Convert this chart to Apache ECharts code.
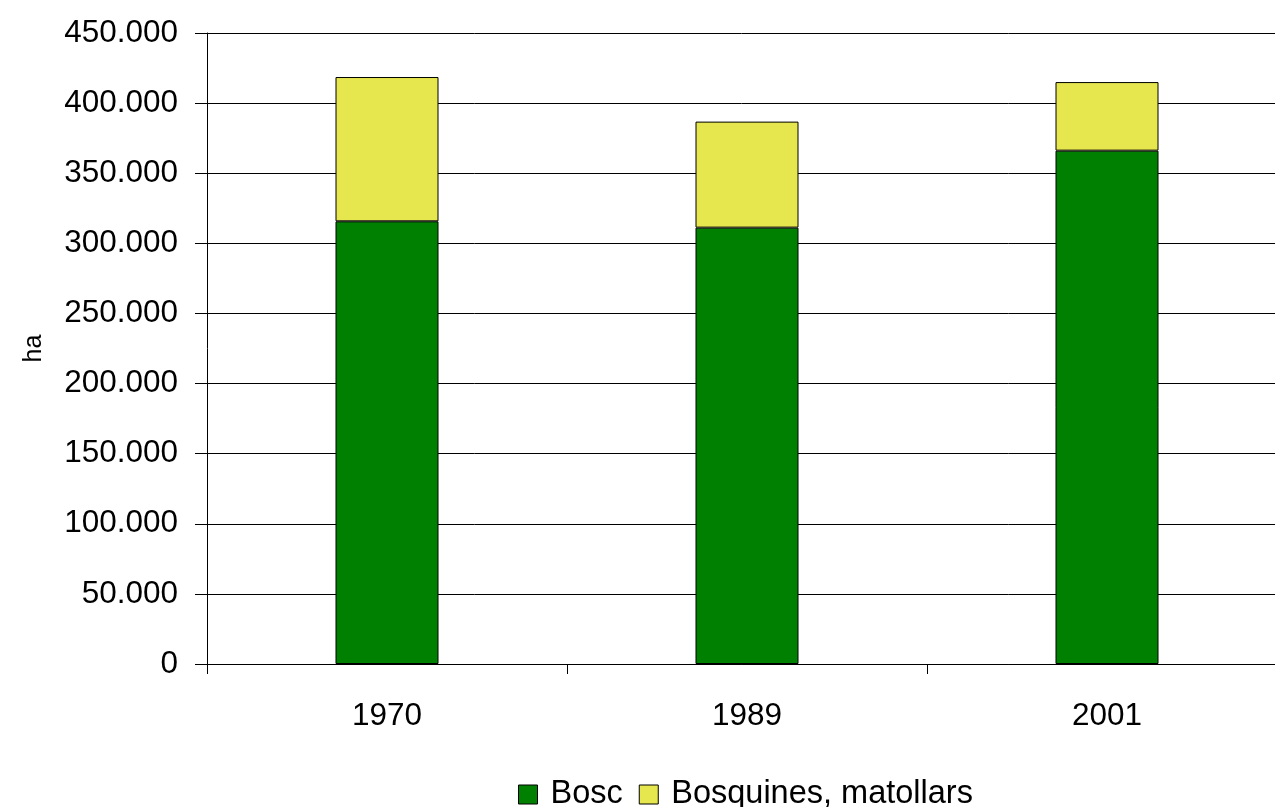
<!DOCTYPE html>
<html>
<head>
<meta charset="utf-8">
<script src="https://cdn.jsdelivr.net/npm/echarts@6/dist/echarts.min.js"></script>
<style>
  html, body { margin: 0; padding: 0; background: #fff; }
  #chart { width: 1275px; height: 807px; }
</style>
</head>
<body>
<div id="chart"></div>
<script>
// Forest area by year (ha)
const years = ['1970', '1989', '2001'];
const bosc = [315700, 311200, 366100];
const bosquines = [102900, 75600, 48900];
const seriesNames = ['Bosc', 'Bosquines, matollars'];

// Thousands separated by a dot, as in Catalan notation
function fmt(v) {
  return String(v).replace(/\B(?=(\d{3})+(?!\d))/g, '.');
}

const FONT = '"Liberation Sans", Arial, sans-serif';

const chart = echarts.init(document.getElementById('chart'), null, { renderer: 'canvas' });
chart.setOption({
  animation: false,
  backgroundColor: '#ffffff',
  grid: { left: 207, top: 33, width: 1080, bottom: 143, containLabel: false, outerBoundsMode: 'none' },
  legend: {
    data: seriesNames,
    bottom: -9,
    left: 513,
    itemWidth: 19,
    itemHeight: 19,
    itemGap: 16,
    icon: 'rect',
    textStyle: { fontFamily: FONT, fontSize: 32.5, color: '#000', padding: [0, 0, 0, 8] },
    itemStyle: { borderColor: '#000', borderWidth: 1 }
  },
  xAxis: {
    type: 'category',
    data: years,
    axisLine: { lineStyle: { color: '#000', width: 1 } },
    axisTick: { show: true, length: 10, alignWithLabel: false, lineStyle: { color: '#000' } },
    axisLabel: { fontFamily: FONT, fontSize: 31.5, color: '#000', margin: 36 },
    splitLine: { show: false }
  },
  yAxis: {
    type: 'value',
    min: 0,
    max: 450000,
    interval: 50000,
    name: 'ha',
    nameLocation: 'middle',
    nameGap: 160,
    nameTextStyle: { fontFamily: FONT, fontSize: 25, color: '#000' },
    axisLine: { show: true, lineStyle: { color: '#000', width: 1 } },
    axisTick: { show: true, length: 12, inside: false, lineStyle: { color: '#000' } },
    axisLabel: { fontFamily: FONT, fontSize: 31.5, color: '#000', margin: 29, formatter: fmt },
    splitLine: { show: true, lineStyle: { color: '#000', width: 1 } }
  },
  series: [
    {
      name: seriesNames[0],
      type: 'bar',
      stack: 'total',
      data: bosc,
      barWidth: 103,
      itemStyle: { color: '#008000', borderColor: '#000', borderWidth: 1 }
    },
    {
      name: seriesNames[1],
      type: 'bar',
      stack: 'total',
      data: bosquines,
      barWidth: 103,
      itemStyle: { color: '#e6e64f', borderColor: '#000', borderWidth: 1 }
    }
  ]
});
</script>
</body>
</html>
